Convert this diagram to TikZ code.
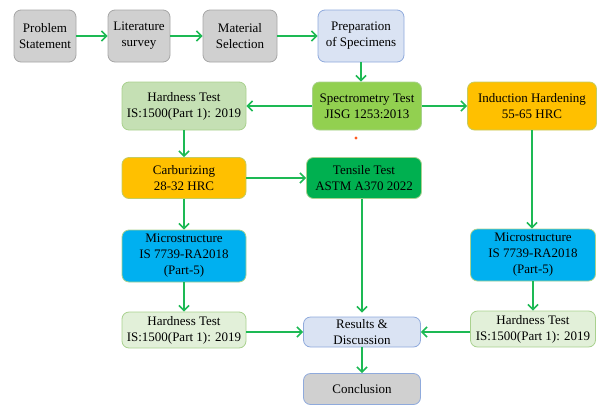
\documentclass[tikz,border=0pt]{standalone}
\usepackage{fontspec}
\setmainfont{Liberation Serif}
\newfontfamily\boxfont{Liberation Serif}
\usetikzlibrary{arrows.meta}
\definecolor{grayfill}{HTML}{D0D0D0}
\definecolor{grayline}{HTML}{A6A6A6}
\definecolor{bluefill}{HTML}{DAE3F3}
\definecolor{blueline}{HTML}{8FAADC}
\definecolor{lgfill}{HTML}{C5E0B4}
\definecolor{vlgfill}{HTML}{E2F0D9}
\definecolor{greenline}{HTML}{A9D18E}
\definecolor{specfill}{HTML}{92D050}
\definecolor{orangefill}{HTML}{FFC000}
\definecolor{tensfill}{HTML}{00B050}
\definecolor{cyanfill}{HTML}{00B0F0}
\definecolor{arrowgreen}{HTML}{1DB954}
\definecolor{dotred}{HTML}{FF5A1F}
\tikzset{
  box/.style={draw, rounded corners=7pt, line width=0.8pt, align=center,
    inner sep=1pt, font=\boxfont\fontsize{13}{16}\selectfont, text=black},
  graybox/.style={box, fill=grayfill, draw=grayline},
  bluebox/.style={box, fill=bluefill, draw=blueline},
  lgbox/.style={box, fill=lgfill, draw=greenline},
  vlgbox/.style={box, fill=vlgfill, draw=greenline},
  specbox/.style={box, fill=specfill, draw=greenline},
  orbox/.style={box, fill=orangefill, draw=greenline!70!orangefill},
  tensbox/.style={box, fill=tensfill, draw=greenline},
  cybox/.style={box, fill=cyanfill, draw=greenline},
  arr/.style={draw=arrowgreen, line width=1.6pt, -{Straight Barb[length=5pt,width=10pt]}},
}
\begin{document}
\begin{tikzpicture}[x=1pt,y=-1pt]
\useasboundingbox (0,0) rectangle (597,405);
\node[graybox, minimum width=62pt, minimum height=52pt] (ps) at (45,36) {Problem\\Statement};
\node[graybox, minimum width=62pt, minimum height=52pt] (ls) at (139,36) {Literature\\survey};
\node[graybox, minimum width=74pt, minimum height=52pt] (ms) at (240,36) {Material\\Selection};
\node[bluebox, minimum width=86pt, minimum height=52pt] (prep) at (361,36) {Preparation\\of Specimens};

\node[lgbox, minimum width=124pt, minimum height=48pt] (ht1) at (184,106) {Hardness Test\\IS:1500(Part 1): 2019};
\node[specbox, minimum width=109pt, minimum height=48pt] (spec) at (367,106) {Spectrometry Test\\JISG 1253:2013};
\node[orbox, minimum width=129pt, minimum height=48pt] (ind) at (532,106) {Induction Hardening\\55-65 HRC};

\node[orbox, minimum width=124pt, minimum height=41pt] (carb) at (184,178) {Carburizing\\28-32 HRC};
\node[tensbox, minimum width=115pt, minimum height=41pt] (tens) at (364,178) {Tensile Test\\ASTM A370 2022};

\node[cybox, minimum width=124pt, minimum height=52pt] (mic1) at (184,256) {Microstructure\\IS 7739-RA2018\\(Part-5)};
\node[cybox, minimum width=125pt, minimum height=52pt] (mic2) at (533,255) {Microstructure\\IS 7739-RA2018\\(Part-5)};

\node[vlgbox, minimum width=124pt, minimum height=36pt] (ht2) at (184,330) {Hardness Test\\IS:1500(Part 1): 2019};
\node[bluebox, minimum width=117pt, minimum height=30pt] (res) at (362,332) {Results \&\\Discussion};
\node[vlgbox, minimum width=125pt, minimum height=36pt] (ht3) at (533,329) {Hardness Test\\IS:1500(Part 1): 2019};
\node[graybox, draw=blueline, minimum width=117pt, minimum height=31pt] (conc) at (362,389) {Conclusion};

\fill[dotred] (356,138) circle (1.6pt);

\draw[arr] (ps) -- (ls);
\draw[arr] (ls) -- (ms);
\draw[arr] (ms) -- (prep);
\draw[arr] (prep.south) -- (prep.south |- spec.north);
\draw[arr] (spec) -- (ht1);
\draw[arr] (spec) -- (ind);
\draw[arr] (ht1) -- (carb);
\draw[arr] (carb) -- (tens);
\draw[arr] (carb) -- (mic1);
\draw[arr] (ind.south) -- (ind.south |- mic2.north);
\draw[arr] (mic1) -- (ht2);
\draw[arr] (mic2) -- (ht3);
\draw[arr, shorten >=4pt] ([xshift=-2pt]tens.south) -- ([xshift=-2pt]tens.south |- res.north);
\draw[arr] (ht2.east |- res.west) -- (res.west);
\draw[arr] (ht3.west |- res.east) -- (res.east);
\draw[arr] (res) -- (conc);
\end{tikzpicture}
\end{document}
